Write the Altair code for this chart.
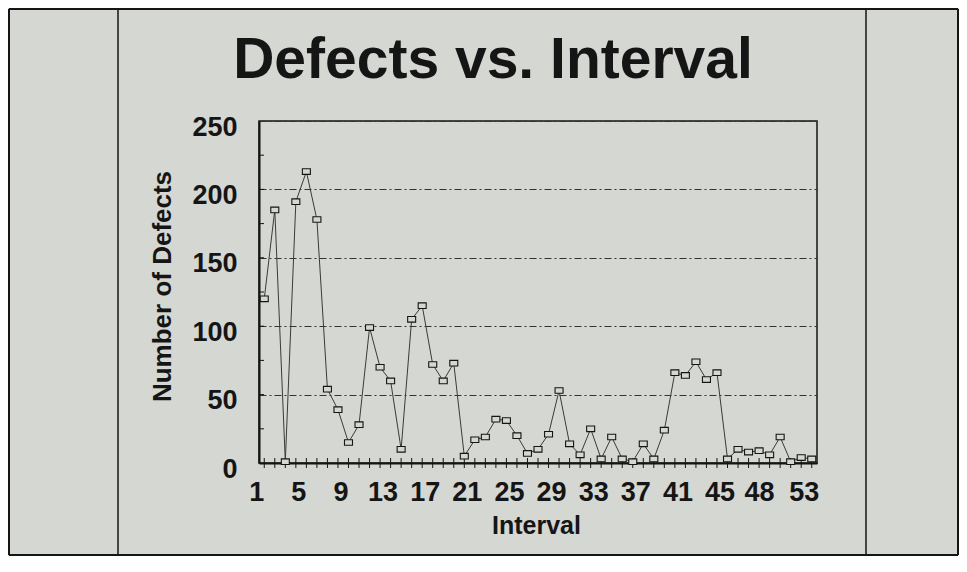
import altair as alt
import pandas as pd

# ---- data ----
intervals = list(range(1, 54))
defects = [120, 185, 1, 191, 213, 178, 54, 39, 15, 28,
           99, 70, 60, 10, 105, 115, 72, 60, 73, 5,
           17, 19, 32, 31, 20, 7, 10, 21, 53, 14,
           6, 25, 3, 19, 3, 1, 14, 3, 24, 66,
           64, 74, 61, 66, 3, 10, 8, 9, 6, 19,
           1, 4, 3]
x_label_values = [1, 5, 9, 13, 17, 21, 25, 29, 33, 37, 41, 45, 48, 53]
y_tick_values = [0, 50, 100, 150, 200, 250]
y_minor_ticks = [25, 50, 75, 100, 125, 150, 175, 200, 225]

BG = "#d5d7d2"
INK = "#151515"
LINE = "#3a3a3a"
FONT = "Liberation Sans"

df = pd.DataFrame({"Interval": intervals, "Defects": defects})
df_minor = pd.DataFrame({"v": y_minor_ticks})
df_xt = pd.DataFrame({"Interval": intervals})

xscale = alt.Scale(domain=[0.5, 53.5], nice=False, zero=False)
yscale = alt.Scale(domain=[0, 250], nice=False, zero=True)

x_axis = alt.Axis(
    values=x_label_values, title="Interval", ticks=False, grid=False,
    domainColor=INK, domainWidth=2,
    labelFont=FONT, labelFontSize=27, labelColor=INK, labelFontWeight="bold",
    labelBaseline="alphabetic", labelPadding=37,
    labelOffset={"condition": {"test": "datum.value == 48", "value": 0}, "value": -8},
    labelOverlap=False, labelFlush=False,
    titleFont=FONT, titleFontSize=25, titleFontWeight="bold", titleColor=INK,
    titleX=277, titleY=70, titleBaseline="alphabetic", titleAlign="center",
)
y_axis = alt.Axis(
    values=y_tick_values, title="Number of Defects", ticks=False,
    grid=True, gridColor="#333333", gridWidth=1, gridDash=[7, 3, 2, 3],
    domainColor=INK, domainWidth=2,
    labelFont=FONT, labelFontSize=27, labelColor=INK, labelFontWeight="bold",
    labelBaseline="alphabetic", labelPadding=22, labelOffset=14,
    labelOverlap=False, labelFlush=False,
    titleFont=FONT, titleFontSize=26, titleFontWeight="bold", titleColor=INK,
    titleX=-89, titleY=165, titleAngle=270, titleBaseline="alphabetic", titleAlign="center",
)

base = alt.Chart(df)

line = base.mark_line(color=LINE, strokeWidth=1).encode(
    x=alt.X("Interval:Q", scale=xscale, axis=x_axis),
    y=alt.Y("Defects:Q", scale=yscale, axis=y_axis),
)
points = base.mark_point(
    shape="M-1,-0.7H1V0.7H-1Z", size=64, filled=True,
    fill=BG, stroke=INK, strokeWidth=1.1, opacity=1,
).encode(x="Interval:Q", y="Defects:Q")

minor = alt.Chart(df_minor).mark_rule(color=INK, strokeWidth=1).encode(
    y="v:Q", x=alt.value(0), x2=alt.value(5)
)
xticks = alt.Chart(df_xt).mark_rule(color=INK, strokeWidth=1).encode(
    x="Interval:Q", y=alt.value(337), y2=alt.value(347)
)

one = alt.Data(values=[{"k": 1}])
def vrule(xp, y1, y2, w):
    return alt.Chart(one).mark_rule(color=INK, strokeWidth=w).encode(
        x=alt.value(xp), y=alt.value(y1), y2=alt.value(y2))
def hrule(yp, x1, x2, w):
    return alt.Chart(one).mark_rule(color=INK, strokeWidth=w).encode(
        y=alt.value(yp), x=alt.value(x1), x2=alt.value(x2))

frame = [
    vrule(-250, -112, 434, 2),
    vrule(699, -112, 434, 2),
    hrule(-112, -250, 699, 2),
    hrule(434, -250, 699, 2),
    vrule(-141, -112, 434, 1.5),
    vrule(607, -112, 434, 1.5),
]

chart = alt.layer(
    *frame, line, minor, xticks, points
).properties(
    width=558, height=342,
    title=alt.TitleParams(
        "Defects vs. Interval", font=FONT, fontSize=57, fontWeight="bold",
        color=INK, anchor="middle", dx=-45, baseline="alphabetic", offset=-127,
    ),
    padding={"left": 251, "top": 113, "right": 142, "bottom": 93},
    autosize=alt.AutoSizeParams(type="none"),
).configure(
    background=BG,
).configure_view(
    stroke=INK, strokeWidth=1.5, fill=BG,
)

chart.save("out.html", embed_options={"renderer": "svg", "actions": False})
